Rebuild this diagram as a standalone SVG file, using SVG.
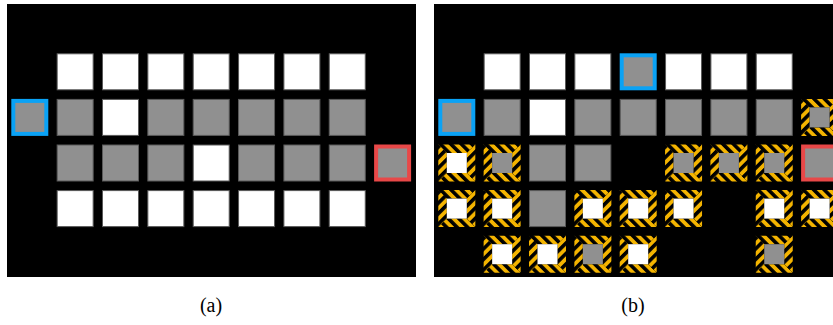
<svg xmlns="http://www.w3.org/2000/svg" xmlns:xlink="http://www.w3.org/1999/xlink" width="833" height="325" viewBox="0 0 833 325">
<style>
.w{fill:#ffffff;stroke:#5a5a5a;stroke-width:1}
.g{fill:#909090;stroke:#5a5a5a;stroke-width:1}
.bl{fill:#909090;stroke:#0aa2f5;stroke-width:4}
.rd{fill:#909090;stroke:#e84848;stroke-width:4}
.lbl{font-family:"Liberation Serif","DejaVu Serif",serif;font-size:20px;fill:#000}
</style>
<defs>
<pattern id="sl" width="7.4" height="7.4" patternUnits="userSpaceOnUse" patternTransform="rotate(45)"><rect width="7.4" height="7.4" fill="#f4b400"/><rect width="3.6" height="7.4" fill="#000"/></pattern>
<pattern id="bs" width="7.4" height="7.4" patternUnits="userSpaceOnUse" patternTransform="rotate(-45)"><rect width="7.4" height="7.4" fill="#f4b400"/><rect width="3.6" height="7.4" fill="#000"/></pattern>
<g id="W"><rect class="w" x="0.5" y="0.5" width="36" height="36"/></g>
<g id="G"><rect class="g" x="0.5" y="0.5" width="36" height="36"/></g>
<g id="B"><rect class="bl" x="2" y="2" width="33" height="33"/></g>
<g id="R"><rect class="rd" x="2" y="2" width="33" height="33"/></g>
<g id="Hz">
<polygon points="0,0 37,0 28.5,8.5 8.5,8.5" fill="url(#bs)"/>
<polygon points="0,37 37,37 28.5,28.5 8.5,28.5" fill="url(#bs)"/>
<polygon points="0,0 8.5,8.5 8.5,28.5 0,37" fill="url(#sl)"/>
<polygon points="37,0 28.5,8.5 28.5,28.5 37,37" fill="url(#sl)"/>
</g>
<g id="HW"><use href="#Hz"/><rect x="8.5" y="8.5" width="20" height="20" fill="#ffffff"/></g>
<g id="HG"><use href="#Hz"/><rect x="8.5" y="8.5" width="20" height="20" fill="#909090"/></g>
</defs>
<rect width="833" height="325" fill="#ffffff"/>
<g id="panel-a">
<rect x="7" y="4" width="409" height="273" fill="#000"/>
<g id="a-r0c1" transform="translate(56.65,53.3)"><use href="#W"/></g>
<g id="a-r0c2" transform="translate(102,53.3)"><use href="#W"/></g>
<g id="a-r0c3" transform="translate(147.35,53.3)"><use href="#W"/></g>
<g id="a-r0c4" transform="translate(192.7,53.3)"><use href="#W"/></g>
<g id="a-r0c5" transform="translate(238.05,53.3)"><use href="#W"/></g>
<g id="a-r0c6" transform="translate(283.4,53.3)"><use href="#W"/></g>
<g id="a-r0c7" transform="translate(328.75,53.3)"><use href="#W"/></g>
<g id="a-r1c0" transform="translate(11.3,98.9)"><use href="#B"/></g>
<g id="a-r1c1" transform="translate(56.65,98.9)"><use href="#G"/></g>
<g id="a-r1c2" transform="translate(102,98.9)"><use href="#W"/></g>
<g id="a-r1c3" transform="translate(147.35,98.9)"><use href="#G"/></g>
<g id="a-r1c4" transform="translate(192.7,98.9)"><use href="#G"/></g>
<g id="a-r1c5" transform="translate(238.05,98.9)"><use href="#G"/></g>
<g id="a-r1c6" transform="translate(283.4,98.9)"><use href="#G"/></g>
<g id="a-r1c7" transform="translate(328.75,98.9)"><use href="#G"/></g>
<g id="a-r2c1" transform="translate(56.65,144.5)"><use href="#G"/></g>
<g id="a-r2c2" transform="translate(102,144.5)"><use href="#G"/></g>
<g id="a-r2c3" transform="translate(147.35,144.5)"><use href="#G"/></g>
<g id="a-r2c4" transform="translate(192.7,144.5)"><use href="#W"/></g>
<g id="a-r2c5" transform="translate(238.05,144.5)"><use href="#G"/></g>
<g id="a-r2c6" transform="translate(283.4,144.5)"><use href="#G"/></g>
<g id="a-r2c7" transform="translate(328.75,144.5)"><use href="#G"/></g>
<g id="a-r2c8" transform="translate(374.1,144.5)"><use href="#R"/></g>
<g id="a-r3c1" transform="translate(56.65,190.1)"><use href="#W"/></g>
<g id="a-r3c2" transform="translate(102,190.1)"><use href="#W"/></g>
<g id="a-r3c3" transform="translate(147.35,190.1)"><use href="#W"/></g>
<g id="a-r3c4" transform="translate(192.7,190.1)"><use href="#W"/></g>
<g id="a-r3c5" transform="translate(238.05,190.1)"><use href="#W"/></g>
<g id="a-r3c6" transform="translate(283.4,190.1)"><use href="#W"/></g>
<g id="a-r3c7" transform="translate(328.75,190.1)"><use href="#W"/></g>
</g>
<g id="panel-b">
<rect x="434" y="4" width="409" height="273" fill="#000"/>
<g id="b-r0c1" transform="translate(483.65,53.3)"><use href="#W"/></g>
<g id="b-r0c2" transform="translate(529,53.3)"><use href="#W"/></g>
<g id="b-r0c3" transform="translate(574.35,53.3)"><use href="#W"/></g>
<g id="b-r0c4" transform="translate(619.7,53.3)"><use href="#B"/></g>
<g id="b-r0c5" transform="translate(665.05,53.3)"><use href="#W"/></g>
<g id="b-r0c6" transform="translate(710.4,53.3)"><use href="#W"/></g>
<g id="b-r0c7" transform="translate(755.75,53.3)"><use href="#W"/></g>
<g id="b-r1c0" transform="translate(438.3,98.9)"><use href="#B"/></g>
<g id="b-r1c1" transform="translate(483.65,98.9)"><use href="#G"/></g>
<g id="b-r1c2" transform="translate(529,98.9)"><use href="#W"/></g>
<g id="b-r1c3" transform="translate(574.35,98.9)"><use href="#G"/></g>
<g id="b-r1c4" transform="translate(619.7,98.9)"><use href="#G"/></g>
<g id="b-r1c5" transform="translate(665.05,98.9)"><use href="#G"/></g>
<g id="b-r1c6" transform="translate(710.4,98.9)"><use href="#G"/></g>
<g id="b-r1c7" transform="translate(755.75,98.9)"><use href="#G"/></g>
<g id="b-r1c8" transform="translate(801.1,98.9)"><use href="#HG"/></g>
<g id="b-r2c0" transform="translate(438.3,144.5)"><use href="#HW"/></g>
<g id="b-r2c1" transform="translate(483.65,144.5)"><use href="#HG"/></g>
<g id="b-r2c2" transform="translate(529,144.5)"><use href="#G"/></g>
<g id="b-r2c3" transform="translate(574.35,144.5)"><use href="#G"/></g>
<g id="b-r2c5" transform="translate(665.05,144.5)"><use href="#HG"/></g>
<g id="b-r2c6" transform="translate(710.4,144.5)"><use href="#HG"/></g>
<g id="b-r2c7" transform="translate(755.75,144.5)"><use href="#HG"/></g>
<g id="b-r2c8" transform="translate(801.1,144.5)"><use href="#R"/></g>
<g id="b-r3c0" transform="translate(438.3,190.1)"><use href="#HW"/></g>
<g id="b-r3c1" transform="translate(483.65,190.1)"><use href="#HW"/></g>
<g id="b-r3c2" transform="translate(529,190.1)"><use href="#G"/></g>
<g id="b-r3c3" transform="translate(574.35,190.1)"><use href="#HW"/></g>
<g id="b-r3c4" transform="translate(619.7,190.1)"><use href="#HW"/></g>
<g id="b-r3c5" transform="translate(665.05,190.1)"><use href="#HW"/></g>
<g id="b-r3c7" transform="translate(755.75,190.1)"><use href="#HW"/></g>
<g id="b-r3c8" transform="translate(801.1,190.1)"><use href="#HW"/></g>
<g id="b-r4c1" transform="translate(483.65,235.7)"><use href="#HW"/></g>
<g id="b-r4c2" transform="translate(529,235.7)"><use href="#HW"/></g>
<g id="b-r4c3" transform="translate(574.35,235.7)"><use href="#HG"/></g>
<g id="b-r4c4" transform="translate(619.7,235.7)"><use href="#HW"/></g>
<g id="b-r4c7" transform="translate(755.75,235.7)"><use href="#HG"/></g>
</g>
<g id="connectors"/>
<g id="captions">
<text class="lbl" x="211" y="312" text-anchor="middle">(a)</text>
<text class="lbl" x="633" y="312" text-anchor="middle">(b)</text>
</g>
</svg>
